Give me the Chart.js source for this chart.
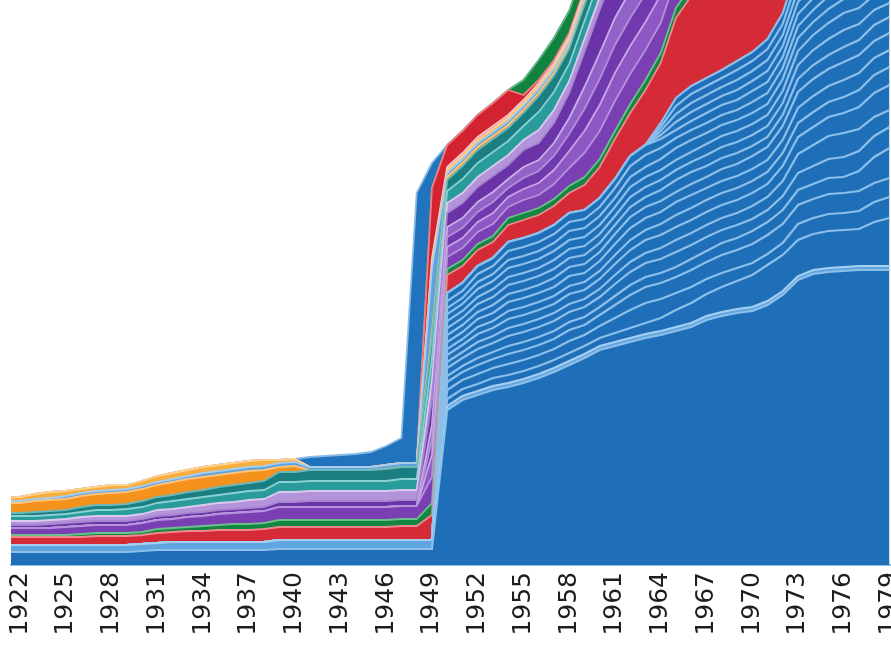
<!DOCTYPE html>
<html><head><meta charset="utf-8">
<script src="https://cdn.jsdelivr.net/npm/chart.js@4.4.1/dist/chart.umd.min.js"></script>
<style>html,body{margin:0;padding:0;background:#fff;overflow:hidden}#wrap{position:relative;width:891px;height:656px}</style>
</head><body><div id="wrap"><canvas id="c" width="891" height="656"></canvas></div>
<script>
const years = [1921,1922,1923,1924,1925,1926,1927,1928,1929,1930,1931,1932,1933,1934,1935,1936,1937,1938,1939,1940,1941,1942,1943,1944,1945,1946,1947,1948,1949,1950,1951,1952,1953,1954,1955,1956,1957,1958,1959,1960,1961,1962,1963,1964,1965,1966,1967,1968,1969,1970,1971,1972,1973,1974,1975,1976,1977,1978,1979];
const tickYears = [1922,1925,1928,1931,1934,1937,1940,1943,1946,1949,1952,1955,1958,1961,1964,1967,1970,1973,1976,1979];

const blueBase = [13,13,13,13,13,13,13,13,13,14,15,15,15,15,15,15,15,15,16,16,16,16,16,16,16,16,16,16,16,155,165,170,175,178,182,187,193,200,207,215,219,223,227,230,234,238,245,249,252,254,260,270,285,291,293,294,295,295,295];
const lightBlue = [7,7,7,7,7,7,7,7,7,7,7,8,8,8,8,8,8,8,9,9,9,9,9,9,9,9,9,9,9,4,4,4,4,4,4,4,4,4,4,4,4,4,4,4,4,4,4,4,4,4,4,4,4,4,4,4,4,4,4];
const blue01 = [0,0,0,0,0,0,0,0,0,0,0,0,0,0,0,0,0,0,0,0,0,0,0,0,0,0,0,0,0,7,7,7,8,8,8,8,8,8,8,8,9,10,11,13,17,20,22,25,28,32,36,36,36,36,37,37,37,44,48];
const blue02 = [0,0,0,0,0,0,0,0,0,0,0,0,0,0,0,0,0,0,0,0,0,0,0,0,0,0,0,0,0,9,9,10,10,11,11,11,11,12,11,12,15,18,20,19,17,16,15,14,13,12,11,12,16,16,17,17,18,20,21];
const blue03 = [0,0,0,0,0,0,0,0,0,0,0,0,0,0,0,0,0,0,0,0,0,0,0,0,0,0,0,0,0,8,8,9,9,10,10,10,10,11,10,11,13,15,16,16,16,17,17,18,18,19,19,19,19,19,20,20,20,19,19];
const blue04 = [0,0,0,0,0,0,0,0,0,0,0,0,0,0,0,0,0,0,0,0,0,0,0,0,0,0,0,0,0,6,6,7,7,8,8,8,8,8,8,8,9,10,10,10,10,11,11,12,12,13,13,14,15,15,16,16,20,26,30];
const blue05 = [0,0,0,0,0,0,0,0,0,0,0,0,0,0,0,0,0,0,0,0,0,0,0,0,0,0,0,0,0,8,8,9,9,10,10,10,10,10,10,10,12,13,14,14,15,14,14,13,13,12,12,14,17,18,19,20,20,21,21];
const blue06 = [0,0,0,0,0,0,0,0,0,0,0,0,0,0,0,0,0,0,0,0,0,0,0,0,0,0,0,0,0,6,6,7,7,8,8,8,8,8,8,8,9,10,10,11,12,12,12,12,12,13,13,15,19,21,23,24,22,19,17];
const blue07 = [0,0,0,0,0,0,0,0,0,0,0,0,0,0,0,0,0,0,0,0,0,0,0,0,0,0,0,0,0,7,7,8,8,9,9,9,9,10,9,10,11,12,13,13,13,13,13,13,13,13,13,15,17,18,19,20,22,24,25];
const blue08 = [0,0,0,0,0,0,0,0,0,0,0,0,0,0,0,0,0,0,0,0,0,0,0,0,0,0,0,0,0,6,6,7,7,8,8,8,8,8,8,8,9,10,10,11,12,12,12,12,12,12,12,13,14,15,15,16,17,18,18];
const blue09 = [0,0,0,0,0,0,0,0,0,0,0,0,0,0,0,0,0,0,0,0,0,0,0,0,0,0,0,0,0,7,7,8,8,9,9,9,9,10,9,10,11,12,12,12,13,13,12,12,12,12,12,13,15,16,16,17,17,17,17];
const blue10 = [0,0,0,0,0,0,0,0,0,0,0,0,0,0,0,0,0,0,0,0,0,0,0,0,0,0,0,0,0,7,7,7,8,8,8,8,9,9,9,9,10,11,11,11,10,11,11,12,12,13,13,14,16,17,17,18,18,17,17];
const blue11 = [0,0,0,0,0,0,0,0,0,0,0,0,0,0,0,0,0,0,0,0,0,0,0,0,0,0,0,0,0,7,7,8,8,9,9,9,9,9,9,9,9,10,10,11,12,12,11,11,11,10,10,11,13,14,14,15,15,16,16];
const blue12 = [0,0,0,0,0,0,0,0,0,0,0,0,0,0,0,0,0,0,0,0,0,0,0,0,0,0,0,0,0,7,7,7,8,8,8,8,9,9,9,9,9,10,10,10,10,10,11,11,11,11,11,12,14,15,16,17,16,15,14];
const blue13 = [0,0,0,0,0,0,0,0,0,0,0,0,0,0,0,0,0,0,0,0,0,0,0,0,0,0,0,0,0,7,7,8,8,9,9,9,9,9,9,9,9,10,10,10,10,10,11,11,11,11,11,12,14,15,16,17,16,15,15];
const blue14 = [0,0,0,0,0,0,0,0,0,0,0,0,0,0,0,0,0,0,0,0,0,0,0,0,0,0,0,0,0,6,6,7,7,8,8,8,8,9,9,9,9,10,10,11,12,12,11,11,11,11,11,12,13,13,14,14,14,15,15];
const blue15 = [0,0,0,0,0,0,0,0,0,0,0,0,0,0,0,0,0,0,0,0,0,0,0,0,0,0,0,0,0,7,7,8,8,9,9,9,9,9,9,9,10,11,12,11,10,10,10,10,10,11,11,11,12,12,13,13,13,14,14];
const blue16 = [0,0,0,0,0,0,0,0,0,0,0,0,0,0,0,0,0,0,0,0,0,0,0,0,0,0,0,0,0,8,8,8,8,9,9,9,9,9,9,9,9,10,10,9,8,9,10,10,10,11,11,11,12,12,13,13,13,14,14];
const blue17 = [0,0,0,0,0,0,0,0,0,0,0,0,0,0,0,0,0,0,0,0,0,0,0,0,0,0,0,0,0,0,0,0,0,0,0,0,0,0,0,0,0,0,0,4,8,9,9,9,10,10,11,11,12,12,13,13,13,14,14];
const blue18 = [0,0,0,0,0,0,0,0,0,0,0,0,0,0,0,0,0,0,0,0,0,0,0,0,0,0,0,0,0,0,0,0,0,0,0,0,0,0,0,0,0,0,0,4,8,9,9,9,10,10,11,11,12,12,13,13,13,14,14];
const blue19 = [0,0,0,0,0,0,0,0,0,0,0,0,0,0,0,0,0,0,0,0,0,0,0,0,0,0,0,0,0,0,0,0,0,0,0,0,0,0,0,0,0,0,0,4,8,9,9,9,10,10,11,11,12,12,13,13,13,14,14];
const blue20 = [0,0,0,0,0,0,0,0,0,0,0,0,0,0,0,0,0,0,0,0,0,0,0,0,0,0,0,0,0,0,0,0,0,0,0,0,0,0,0,0,0,0,0,4,8,8,8,8,9,9,10,11,12,12,13,13,13,14,14];
const red2 = [8,8,8,8,8,8,9,9,9,9,10,10,11,11,12,12,12,13,13,13,13,13,13,13,13,13,14,14,25,18,17,16,16,17,18,18,19,20,25,31,40,43,55,60,80,90,95,95,95,95,95,95,95,95,95,95,95,95,95];
const green2 = [2,2,2,2,2,3,3,3,3,3,4,4,4,5,5,6,6,6,7,7,7,7,7,7,7,7,7,7,12,6,6,6,6,7,7,7,7,7,8,8,8,9,10,10,10,10,10,10,10,10,10,10,10,10,10,10,10,10,10];
const purple1 = [7,7,7,7,8,8,8,8,8,9,9,9,10,10,11,11,12,12,13,13,13,13,13,13,13,13,13,13,26,12,12,12,12,11,13,13,15,18,24,28,30,30,30,30,30,30,30,30,30,30,30,30,30,30,30,30,30,30,30];
const purple1c = [0,0,0,0,0,0,0,0,0,0,0,0,0,0,0,0,0,0,0,0,0,0,0,0,0,0,0,0,22,10,10,10,11,10,11,12,14,17,22,26,28,28,28,28,28,28,28,28,28,28,28,28,28,28,28,28,28,28,28];
const purple1b = [0,0,0,0,0,0,0,0,0,0,0,0,0,0,0,0,0,0,0,0,0,0,0,0,0,0,0,0,15,10,10,10,11,9,11,12,14,17,22,26,28,28,28,28,28,28,28,28,28,28,28,28,28,28,28,28,28,28,28];
const purple1d = [0,0,0,0,0,0,0,0,0,0,0,0,0,0,0,0,0,0,0,0,0,0,0,0,0,0,0,0,15,10,10,10,10,9,11,11,13,16,22,26,27,27,27,27,27,27,27,27,27,27,27,27,27,27,27,27,27,27,27];
const purple2 = [3,3,3,4,4,4,4,4,4,4,4,4,4,4,4,4,4,4,5,5,6,6,6,6,6,6,6,6,25,14,15,15,16,14,17,17,20,25,35,43,47,47,47,47,47,47,47,47,47,47,47,47,47,47,47,47,47,47,47];
const lightPurple = [4,4,4,4,4,5,5,5,5,5,6,6,6,7,7,7,8,8,10,10,10,10,10,10,10,10,10,10,20,10,10,10,10,10,10,13,13,12,13,13,13,13,13,13,13,13,13,13,13,13,13,13,13,13,13,13,13,13,13];
const teal1 = [5,5,5,5,5,5,6,6,7,7,7,8,8,8,8,9,9,9,10,10,10,10,10,10,10,10,11,11,22,12,14,14,14,14,14,18,18,17,18,18,18,18,18,18,18,18,18,18,18,18,18,18,18,18,18,18,18,18,18];
const teal2 = [3,3,4,4,4,5,5,5,5,6,6,6,7,7,8,8,8,9,10,10,11,11,11,11,11,12,12,12,20,11,13,13,13,13,13,16,16,15,16,16,16,16,16,16,16,16,16,16,16,16,16,16,16,16,16,16,16,16,16];
const orange1 = [10,10,11,11,11,11,11,12,12,12,12,13,13,13,12,12,12,11,5,6,0,0,0,0,0,0,0,0,5,3,3,3,3,3,3,3,3,3,3,3,3,3,3,3,3,3,3,3,3,3,3,3,3,3,3,3,3,3,3];
const lightBlue2 = [2,2,2,2,3,3,3,3,3,3,3,3,3,4,4,4,4,4,4,4,3,3,3,3,3,4,4,4,65,4,4,4,4,4,4,4,4,4,4,4,4,4,4,4,4,4,4,4,4,4,4,4,4,4,4,4,4,4,4];
const orange2 = [3,4,5,6,5,4,4,5,4,5,6,6,6,6,6,6,6,6,3,3,0,0,0,0,0,0,0,0,5,3,3,3,3,3,3,3,3,3,3,3,3,3,3,3,3,3,3,3,3,3,3,3,3,3,3,3,3,3,3];
const pink = [0,0,0,0,0,0,0,0,0,0,0,0,0,0,0,0,0,0,0,0,0,0,0,0,0,0,0,0,5,3,3,3,3,3,3,3,3,3,3,3,3,3,3,3,3,3,3,3,3,3,3,3,3,3,3,3,3,3,3];
const red1 = [0,0,0,0,0,0,0,0,0,0,0,0,0,0,0,0,0,0,0,0,0,0,0,0,0,0,0,0,70,22,22,22,23,25,5,3,3,3,3,3,3,3,3,3,3,3,3,3,3,3,3,3,3,3,3,3,3,3,3];
const green1 = [0,0,0,0,0,0,0,0,0,0,0,0,0,0,0,0,0,0,0,0,0,0,0,0,0,0,0,0,0,0,0,0,0,0,15,20,22,22,22,22,22,22,22,22,22,22,22,22,22,22,22,22,22,22,22,22,22,22,22];
const blueTop = [0,0,0,0,0,0,0,0,0,0,0,0,0,0,0,0,0,0,0,0,10,11,12,13,15,19,25,270,25,0,0,0,0,0,0,0,0,0,0,0,0,0,0,0,0,0,0,0,0,0,0,0,0,0,0,0,0,0,0];

const DB = '#1f6fb8', DBL = '#8cbfea';
const layers = [
  ['blue base', blueBase, DB, DBL, 2.2],
  ['light blue', lightBlue, '#5fa5df', '#a9cff0', 2],
  ['blue 1', blue01, DB, DBL, 2.2], ['blue 2', blue02, DB, DBL, 2.2], ['blue 3', blue03, DB, DBL, 2.2], ['blue 4', blue04, DB, DBL, 2.2],
  ['blue 5', blue05, DB, DBL, 2.2], ['blue 6', blue06, DB, DBL, 2.2], ['blue 7', blue07, DB, DBL, 2.2], ['blue 8', blue08, DB, DBL, 2.2],
  ['blue 9', blue09, DB, DBL, 2.2], ['blue 10', blue10, DB, DBL, 2.2], ['blue 11', blue11, DB, DBL, 2.2], ['blue 12', blue12, DB, DBL, 2.2],
  ['blue 13', blue13, DB, DBL, 2.2], ['blue 14', blue14, DB, DBL, 2.2], ['blue 15', blue15, DB, DBL, 2.2], ['blue 16', blue16, DB, DBL, 2.2],
  ['blue 17', blue17, DB, DBL, 2.2], ['blue 18', blue18, DB, DBL, 2.2], ['blue 19', blue19, DB, DBL, 2.2], ['blue 20', blue20, DB, DBL, 2.2],
  ['red 2', red2, '#d42b37', '#ef8890', 1.8],
  ['green 2', green2, '#138642', '#6cc08c', 1.8],
  ['purple 1', purple1, '#7b3fb4', '#b593dc', 1.8],
  ['purple 1c', purple1c, '#8d58c4', '#c4a8e6', 1.8],
  ['purple 1b', purple1b, '#7039ad', '#b18fd9', 1.8],
  ['purple 1d', purple1d, '#9362c9', '#c9b0e8', 1.8],
  ['purple 2', purple2, '#6a33a7', '#a684cf', 1.8],
  ['light purple', lightPurple, '#b393d9', '#dacaf0', 1.8],
  ['teal 1', teal1, '#2a9b9b', '#8ad1d1', 1.8],
  ['teal 2', teal2, '#1b7e80', '#6db8b9', 1.8],
  ['orange 1', orange1, '#f5921e', '#ffc37c', 1.8],
  ['light blue 2', lightBlue2, '#5ea3dc', '#a6cdee', 1.8],
  ['orange 2', orange2, '#f8ad3d', '#ffd38e', 1.8],
  ['pink', pink, '#f08d96', '#f9c3c7', 1.8],
  ['red 1', red1, '#d42330', '#ee7f87', 1.8],
  ['green 1', green1, '#12833f', '#5fb57f', 1.8],
  ['blue top', blueTop, '#2273bd', '#86bbe8', 1.8]
];

const datasets = layers.map((l, i) => ({
  label: l[0], data: l[1], backgroundColor: l[2], borderColor: l[3],
  borderWidth: l[4], fill: i === 0 ? 'origin' : '-1', pointRadius: 0, tension: 0
}));

new Chart(document.getElementById('c'), {
  type: 'line',
  data: { labels: years, datasets },
  options: {
    responsive: false, animation: false, devicePixelRatio: 1,
    layout: { padding: { left: 11, right: 0, top: 0, bottom: 0 } },
    plugins: { legend: { display: false }, tooltip: { enabled: false } },
    scales: {
      x: {
        type: 'linear', min: 1921.4, max: 1979.1,
        grid: { display: false, drawTicks: false },
        border: { display: true, color: '#8fc1ea', width: 2 },
        ticks: { autoSkip: false, minRotation: 90, maxRotation: 90, padding: 7, color: '#1e1e1e',
          font: { family: 'DejaVu Sans', size: 25 }, callback: v => String(v) },
        afterBuildTicks: s => { s.ticks = tickYears.map(v => ({ value: v })); },
        afterFit: s => { s.height = 91; s.paddingLeft = 0; s.paddingRight = 0; }
      },
      y: { stacked: true, min: 0, max: 565, display: false }
    }
  }
});
</script>
</body></html>
